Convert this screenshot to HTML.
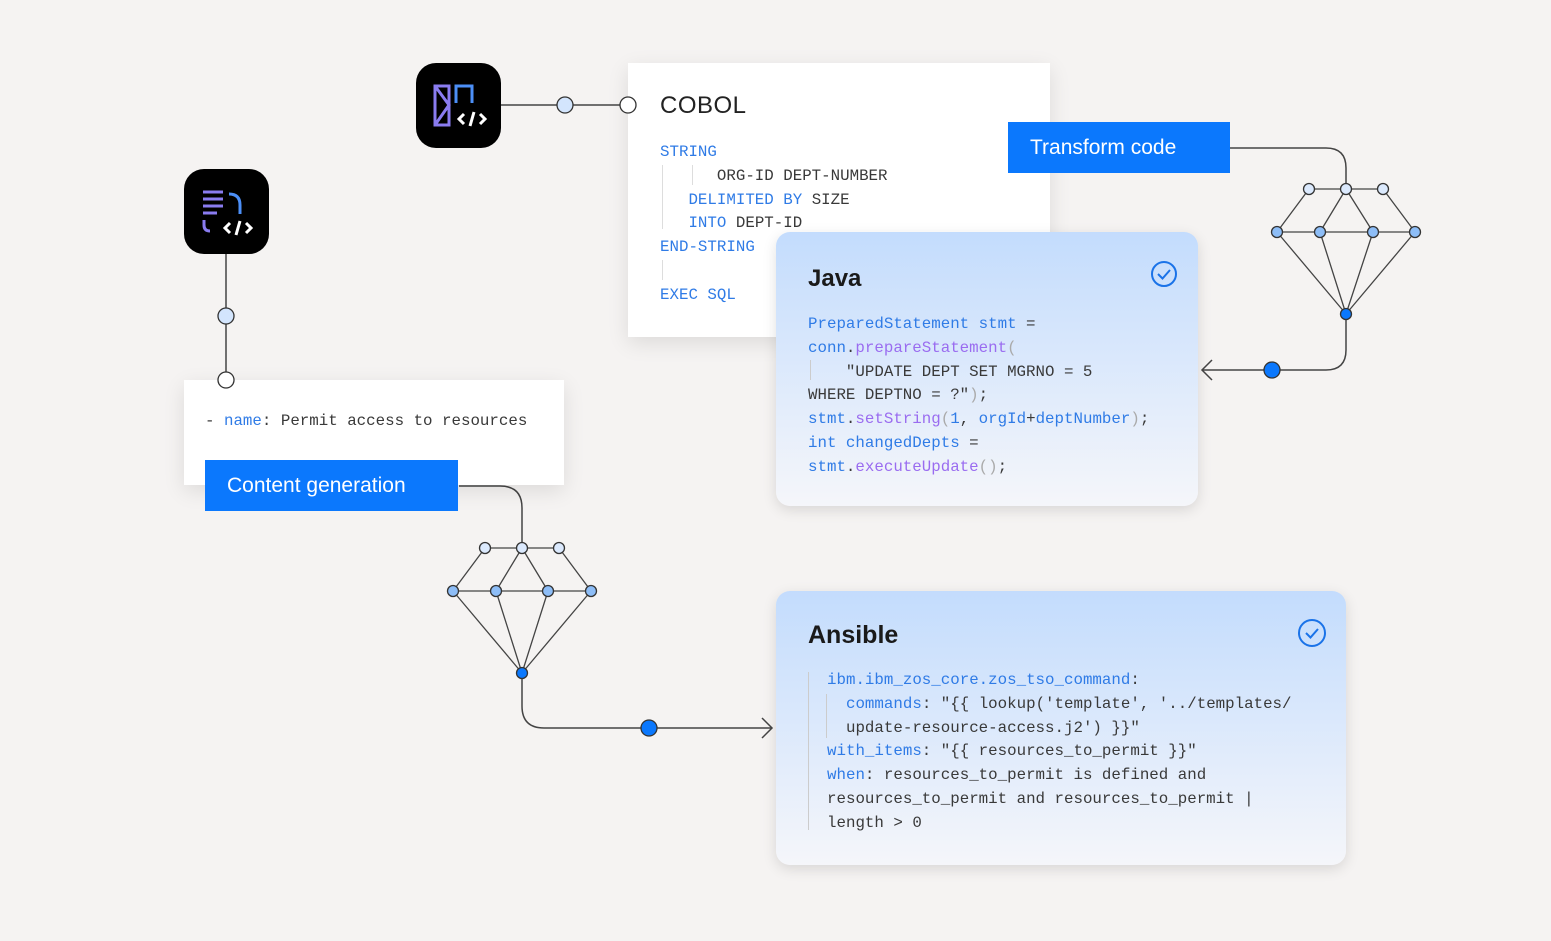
<!DOCTYPE html>
<html><head><meta charset="utf-8"><style>
*{margin:0;padding:0;box-sizing:border-box}
body{width:1551px;height:941px;background:#f5f3f2;position:relative;overflow:hidden;font-family:"Liberation Sans",sans-serif}
.abs{position:absolute}
.code{font-family:"Liberation Mono",monospace;font-size:15.8px;color:#393939;white-space:pre;line-height:23.8px}
.b{color:#2f7be6}.p{color:#9a6cf0}.g{color:#aaa}
.card{border-radius:14px;background:linear-gradient(#c3dcfd,#f5f6fa);box-shadow:0 4px 14px rgba(0,0,0,.12)}
.btn{background:#0b78fd;color:#fff;font-size:21px;padding-left:22px;line-height:51px}
.icon{background:#000;border-radius:20px}
</style></head><body>
<svg class="abs" style="left:0;top:0" width="1551" height="941">
<g fill="none" stroke="#444" stroke-width="1.5">
<line x1="501" y1="105" x2="620" y2="105"/>
<line x1="226" y1="253" x2="226" y2="372"/>
<path d="M1230 148 H1326 Q1346 148 1346 168 V189"/>
<path d="M1346 314 V350 Q1346 370 1326 370 H1202"/>
<path d="M1212 360 L1202 370 L1212 380"/>
<path d="M459 486 H500 Q522 486 522 508 V548"/>
<path d="M522 673 V706 Q522 728 544 728 H772"/>
<path d="M762 718 L772 728 L762 738"/>
</g>
<g stroke="#444" stroke-width="1.3" fill="none">
<path d="M1309 189 H1383 M1277 232 H1415 M1309 189 L1277 232 M1346 189 L1320 232 M1346 189 L1373 232 M1383 189 L1415 232 M1277 232 L1346 314 M1320 232 L1346 314 M1373 232 L1346 314 M1415 232 L1346 314"/>
<path d="M485 548 H559 M453 591 H591 M485 548 L453 591 M522 548 L496 591 M522 548 L548 591 M559 548 L591 591 M453 591 L522 673 M496 591 L522 673 M548 591 L522 673 M591 591 L522 673"/>
</g>
<g stroke="#333" stroke-width="1.3">
<circle cx="1309" cy="189" r="5.5" fill="#dbe9fd"/><circle cx="1346" cy="189" r="5.5" fill="#dbe9fd"/><circle cx="1383" cy="189" r="5.5" fill="#dbe9fd"/>
<circle cx="1277" cy="232" r="5.5" fill="#8dbdf7"/><circle cx="1320" cy="232" r="5.5" fill="#8dbdf7"/><circle cx="1373" cy="232" r="5.5" fill="#8dbdf7"/><circle cx="1415" cy="232" r="5.5" fill="#8dbdf7"/>
<circle cx="1346" cy="314" r="5.5" fill="#0b78fd"/>
<circle cx="1272" cy="370" r="8" fill="#0b78fd"/>
<circle cx="485" cy="548" r="5.5" fill="#dbe9fd"/><circle cx="522" cy="548" r="5.5" fill="#dbe9fd"/><circle cx="559" cy="548" r="5.5" fill="#dbe9fd"/>
<circle cx="453" cy="591" r="5.5" fill="#8dbdf7"/><circle cx="496" cy="591" r="5.5" fill="#8dbdf7"/><circle cx="548" cy="591" r="5.5" fill="#8dbdf7"/><circle cx="591" cy="591" r="5.5" fill="#8dbdf7"/>
<circle cx="522" cy="673" r="5.5" fill="#0b78fd"/>
<circle cx="649" cy="728" r="8" fill="#0b78fd"/>
<circle cx="565" cy="105" r="8" fill="#d3e5fd"/>
<circle cx="226" cy="316" r="8" fill="#d3e5fd"/>
</g>
</svg>

<!-- icons -->
<div class="abs icon" style="left:416px;top:63px;width:85px;height:85px">
<svg width="85" height="85"><g fill="none" stroke-width="3">
<rect x="19" y="23" width="14" height="39" stroke="#8a7cf0"/><path d="M19 23 L33 42 L19 62" stroke="#8a7cf0"/>
<path d="M40 40 V23 H56 V40" stroke="#4c8ff7"/>
<path d="M48 51 L43 56 L48 61 M64 51 L69 56 L64 61 M58 49 L54 63" stroke="#fff"/></g></svg></div>
<div class="abs icon" style="left:184px;top:169px;width:85px;height:85px">
<svg width="85" height="85"><g fill="none" stroke-width="3">
<path d="M19 23 H39 M19 30 H39 M19 37 H39 M19 44 H33" stroke="#8a7cf0"/>
<path d="M20 51 V56 Q20 62 26 62" stroke="#8a7cf0"/>
<path d="M45 25 Q56 25 56 36 V45" stroke="#4c8ff7"/>
<path d="M46 54 L41 59 L46 64 M62 54 L67 59 L62 64 M56 52 L52 66" stroke="#fff"/></g></svg></div>

<!-- COBOL -->
<div class="abs" style="left:628px;top:63px;width:422px;height:274px;background:#fff;box-shadow:0 6px 20px rgba(0,0,0,.1)"></div>
<svg class="abs" style="left:618px;top:95px" width="20" height="20"><circle cx="10" cy="10" r="8" fill="#fff" stroke="#333" stroke-width="1.3"/></svg>
<div class="abs" style="left:660px;top:92px;font-size:24px;color:#222;letter-spacing:.5px">COBOL</div>
<div class="abs" style="left:662px;top:165px;width:1px;height:64px;background:#ddd"></div>
<div class="abs" style="left:692px;top:165px;width:1px;height:20px;background:#ddd"></div>
<div class="abs" style="left:662px;top:260px;width:1px;height:20px;background:#ddd"></div>
<div class="abs code" style="left:660px;top:141px"><span class="b">STRING</span>
      ORG-ID DEPT-NUMBER
   <span class="b">DELIMITED BY</span> SIZE
   <span class="b">INTO</span> DEPT-ID
<span class="b">END-STRING</span>

<span class="b">EXEC SQL</span></div>

<div class="abs btn" style="left:1008px;top:122px;width:222px">Transform code</div>

<!-- Java -->
<div class="abs card" style="left:776px;top:232px;width:422px;height:274px"></div>
<div class="abs" style="left:808px;top:265px;font-size:24px;font-weight:bold;color:#1a1a1a">Java</div>
<svg class="abs" style="left:1150px;top:260px" width="30" height="30"><circle cx="14" cy="14" r="12" fill="none" stroke="#1a73e8" stroke-width="2"/><path d="M8 14 L12.5 18.5 L20 10" fill="none" stroke="#1a73e8" stroke-width="2"/></svg>
<div class="abs" style="left:810px;top:360px;width:1px;height:20px;background:#ccc"></div>
<div class="abs code" style="left:808px;top:313px"><span class="b">PreparedStatement stmt</span> =
<span class="b">conn</span>.<span class="p">prepareStatement</span><span class="g">(</span>
    "UPDATE DEPT SET MGRNO = 5
WHERE DEPTNO = ?"<span class="g">)</span>;
<span class="b">stmt</span>.<span class="p">setString</span><span class="g">(</span><span class="b">1</span>, <span class="b">orgId</span>+<span class="b">deptNumber</span><span class="g">)</span>;
<span class="b">int changedDepts</span> =
<span class="b">stmt</span>.<span class="p">executeUpdate</span><span class="g">()</span>;</div>

<!-- left white box -->
<div class="abs" style="left:184px;top:380px;width:380px;height:105px;background:#fff;box-shadow:0 6px 20px rgba(0,0,0,.1)"></div>
<svg class="abs" style="left:216px;top:370px" width="20" height="20"><circle cx="10" cy="10" r="8" fill="#fff" stroke="#333" stroke-width="1.3"/></svg>
<div class="abs code" style="left:205px;top:410px">- <span class="b">name</span>: Permit access to resources</div>
<div class="abs btn" style="left:205px;top:460px;width:253px">Content generation</div>

<!-- Ansible -->
<div class="abs card" style="left:776px;top:591px;width:570px;height:274px"></div>
<div class="abs" style="left:808px;top:621px;font-size:25px;font-weight:bold;color:#1a1a1a">Ansible</div>
<svg class="abs" style="left:1297px;top:619px" width="30" height="30"><circle cx="15" cy="14" r="13" fill="none" stroke="#1a73e8" stroke-width="2"/><path d="M9 14 L13.5 18.5 L21 10" fill="none" stroke="#1a73e8" stroke-width="2"/></svg>
<div class="abs" style="left:808px;top:672px;width:1px;height:158px;background:#ccc"></div>
<div class="abs" style="left:826px;top:694px;width:1px;height:44px;background:#ccc"></div>
<div class="abs code" style="left:827px;top:669px"><span class="b">ibm.ibm_zos_core.zos_tso_command</span>:
  <span class="b">commands</span>: "{{ lookup('template', '../templates/
  update-resource-access.j2') }}"
<span class="b">with_items</span>: "{{ resources_to_permit }}"
<span class="b">when</span>: resources_to_permit is defined and
resources_to_permit and resources_to_permit |
length &gt; 0</div>
</body></html>
